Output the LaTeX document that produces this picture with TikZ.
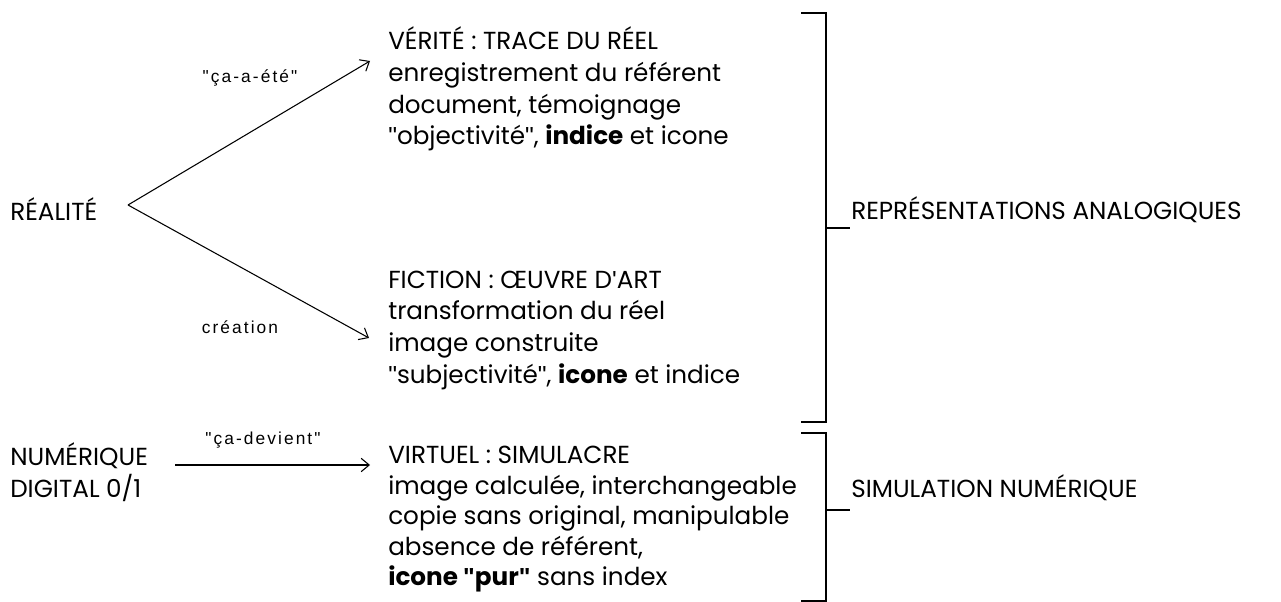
\documentclass[tikz,border=0pt]{standalone}
\usepackage{fontspec}
\setmainfont{Poppins}
\newfontfamily\labelfont{Liberation Sans}[LetterSpace=12]
\newfontfamily\quotefont{Liberation Sans}
\newcommand{\dq}{{\quotefont"}}
\newcommand{\sq}{{\quotefont\symbol{"27}}}
\usetikzlibrary{arrows.meta}
\tikzset{
  txt/.style={anchor=base west, inner sep=0pt, font=\fontsize{18.5pt}{22pt}\selectfont},
  lbl/.style={anchor=base, inner sep=0pt, font=\labelfont\fontsize{13pt}{15pt}\selectfont},
  arr/.style={-{Straight Barb[length=6pt,width=10pt]}, line width=0.8pt},
  brk/.style={line width=1.4pt},
}
\begin{document}
\begin{tikzpicture}[x=0.75pt,y=-0.75pt]
\useasboundingbox (0,0) rectangle (1281,602);
% left
\node[txt] (real) at (10,221) {RÉALITÉ};
\coordinate (apex) at (128,205);
\node[txt] (num) at (10,465) {NUMÉRIQUE};
\node[txt] (dig) at (10,497) {DIGITAL 0/1};
% VERITE block
\node[txt] (v1) at (388,50) {VÉRITÉ : TRACE DU RÉEL};
\node[txt] (v2) at (388,81.7) {enregistrement du référent};
\node[txt] (v3) at (388,113.3) {document, témoignage};
\node[txt] (v4) at (388,145) {\dq objectivité\dq, \textbf{indice} et icone};
% FICTION block
\node[txt] (f1) at (388,288) {FICTION : ŒUVRE D\sq ART};
\node[txt] (f2) at (388,320) {transformation du réel};
\node[txt] (f3) at (388,351) {image construite};
\node[txt] (f4) at (388,383) {\dq subjectivité\dq, \textbf{icone} et indice};
% VIRTUEL block
\node[txt] (s1) at (388,463) {VIRTUEL : SIMULACRE};
\node[txt] (s2) at (388,494) {image calculée, interchangeable};
\node[txt] (s3) at (388,524.5) {copie sans original, manipulable};
\node[txt] (s4) at (388,555) {absence de référent,};
\node[txt] (s5) at (388,585.5) {\textbf{icone {\quotefont\bfseries"}pur{\quotefont\bfseries"}} sans index};
% arrows
\coordinate (vtip) at (370,61);
\coordinate (ftip) at (369,338);
\coordinate (nstart) at (175,465);
\coordinate (ntip) at (370,465);
\draw[arr] (apex) -- (vtip);
\draw[arr] (apex) -- (ftip);
\draw[arr] (nstart) -- (ntip);
\node[lbl] (l1) at (250,83) {"ça-a-été"};
\node[lbl] (l2) at (240,333) {création};
\node[lbl] (l3) at (263,444) {"ça-devient"};
% brackets
\draw[brk] (801,13) -- (826,13) -- (826,422) -- (801,422);
\draw[brk] (826,228) coordinate (t1) -- (850,228);
\draw[brk] (801,433) -- (826,433) -- (826,601) -- (801,601);
\draw[brk] (826,510) coordinate (t2) -- (850,510);
\node[txt] (rep) at (851,220) {REPRÉSENTATIONS ANALOGIQUES};
\node[txt] (sim) at (851,497) {SIMULATION NUMÉRIQUE};
\end{tikzpicture}
\end{document}
